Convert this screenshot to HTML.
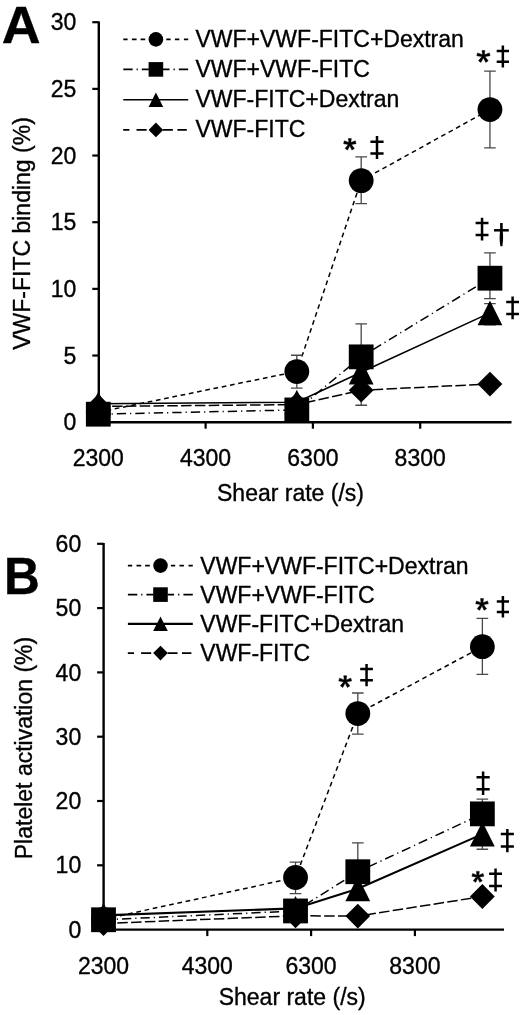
<!DOCTYPE html><html><head><meta charset="utf-8"><style>html,body{margin:0;padding:0;background:#fff;}svg{display:block;filter:grayscale(1);}text{font-family:"Liberation Sans",sans-serif;fill:#000;stroke:#000;stroke-width:0.35px;}</style></head><body>
<svg width="520" height="1015" viewBox="0 0 520 1015">
<rect width="520" height="1015" fill="#fff"/>
<line x1="98.8" y1="21.5" x2="98.8" y2="422.2" stroke="#000" stroke-width="2.4"/>
<line x1="97.6" y1="422.2" x2="511.5" y2="422.2" stroke="#000" stroke-width="2.4"/>
<line x1="92.3" y1="422.20" x2="98.8" y2="422.20" stroke="#000" stroke-width="2.2"/>
<text x="76.3" y="430.30" text-anchor="end" font-size="23">0</text>
<line x1="92.3" y1="355.53" x2="98.8" y2="355.53" stroke="#000" stroke-width="2.2"/>
<text x="76.3" y="363.63" text-anchor="end" font-size="23">5</text>
<line x1="92.3" y1="288.87" x2="98.8" y2="288.87" stroke="#000" stroke-width="2.2"/>
<text x="76.3" y="296.97" text-anchor="end" font-size="23">10</text>
<line x1="92.3" y1="222.20" x2="98.8" y2="222.20" stroke="#000" stroke-width="2.2"/>
<text x="76.3" y="230.30" text-anchor="end" font-size="23">15</text>
<line x1="92.3" y1="155.54" x2="98.8" y2="155.54" stroke="#000" stroke-width="2.2"/>
<text x="76.3" y="163.64" text-anchor="end" font-size="23">20</text>
<line x1="92.3" y1="88.88" x2="98.8" y2="88.88" stroke="#000" stroke-width="2.2"/>
<text x="76.3" y="96.97" text-anchor="end" font-size="23">25</text>
<line x1="92.3" y1="22.21" x2="98.8" y2="22.21" stroke="#000" stroke-width="2.2"/>
<text x="76.3" y="30.31" text-anchor="end" font-size="23">30</text>
<line x1="205.60" y1="422.2" x2="205.60" y2="428.7" stroke="#000" stroke-width="2.2"/>
<line x1="312.90" y1="422.2" x2="312.90" y2="428.7" stroke="#000" stroke-width="2.2"/>
<line x1="420.20" y1="422.2" x2="420.20" y2="428.7" stroke="#000" stroke-width="2.2"/>
<text x="98.30" y="465.8" text-anchor="middle" font-size="23">2300</text>
<text x="205.60" y="465.8" text-anchor="middle" font-size="23">4300</text>
<text x="312.90" y="465.8" text-anchor="middle" font-size="23">6300</text>
<text x="420.20" y="465.8" text-anchor="middle" font-size="23">8300</text>
<text x="290.5" y="500.8" text-anchor="middle" font-size="23">Shear rate (/s)</text>
<text transform="translate(29.8,233.5) rotate(-90)" text-anchor="middle" font-size="23">VWF-FITC binding (%)</text>
<text transform="translate(1.8,42.6) scale(1.035,1)" font-size="52" font-weight="bold">A</text>
<polyline points="98.30,406.47 296.81,404.60 361.19,390.20 489.95,384.07" fill="none" stroke="#000" stroke-width="1.5" stroke-dasharray="10.5 3.3"/>
<polyline points="98.30,403.80 296.81,402.20 361.19,372.20 489.95,312.87" fill="none" stroke="#000" stroke-width="1.6" stroke-dasharray="none"/>
<polyline points="98.30,414.20 296.81,409.93 361.19,356.87 489.95,278.20" fill="none" stroke="#000" stroke-width="1.5" stroke-dasharray="9.3 4 1.2 4"/>
<polyline points="98.30,412.20 296.81,371.53 361.19,180.61 489.95,109.54" fill="none" stroke="#000" stroke-width="1.5" stroke-dasharray="4.7 3.7"/>
<path d="M361.19,405.27V390.20M355.38,405.27h11.6M355.38,390.20h11.6" stroke="#484848" stroke-width="1.3" fill="none"/>
<path d="M489.95,324.87V303.54M484.15,324.87h11.6M484.15,303.54h11.6" stroke="#484848" stroke-width="1.3" fill="none"/>
<path d="M361.19,356.87V323.94M355.38,356.87h11.6M355.38,323.94h11.6" stroke="#484848" stroke-width="1.3" fill="none"/>
<path d="M489.95,298.60V252.87M484.15,298.60h11.6M484.15,252.87h11.6" stroke="#484848" stroke-width="1.3" fill="none"/>
<path d="M296.81,388.20V355.27M291.00,388.20h11.6M291.00,355.27h11.6" stroke="#484848" stroke-width="1.3" fill="none"/>
<path d="M361.19,203.54V156.87M355.38,203.54h11.6M355.38,156.87h11.6" stroke="#484848" stroke-width="1.3" fill="none"/>
<path d="M489.95,147.94V71.14M484.15,147.94h11.6M484.15,71.14h11.6" stroke="#484848" stroke-width="1.3" fill="none"/>
<path d="M98.30,394.07L110.70,406.47L98.30,418.87L85.90,406.47Z" fill="#000"/>
<path d="M296.81,392.20L309.20,404.60L296.81,417.00L284.41,404.60Z" fill="#000"/>
<path d="M361.19,377.80L373.58,390.20L361.19,402.60L348.79,390.20Z" fill="#000"/>
<path d="M489.95,371.67L502.35,384.07L489.95,396.47L477.55,384.07Z" fill="#000"/>
<path d="M98.30,391.40L110.70,416.20L85.90,416.20Z" fill="#000"/>
<path d="M296.81,389.80L309.20,414.60L284.41,414.60Z" fill="#000"/>
<path d="M361.19,359.80L373.58,384.60L348.79,384.60Z" fill="#000"/>
<path d="M489.95,300.47L502.35,325.27L477.55,325.27Z" fill="#000"/>
<rect x="85.90" y="401.80" width="24.80" height="24.80" fill="#000"/>
<rect x="284.41" y="397.53" width="24.80" height="24.80" fill="#000"/>
<rect x="348.79" y="344.47" width="24.80" height="24.80" fill="#000"/>
<rect x="477.55" y="265.80" width="24.80" height="24.80" fill="#000"/>
<circle cx="98.30" cy="412.20" r="12.40" fill="#000"/>
<circle cx="296.81" cy="371.53" r="12.40" fill="#000"/>
<circle cx="361.19" cy="180.61" r="12.40" fill="#000"/>
<circle cx="489.95" cy="109.54" r="12.40" fill="#000"/>
<path d="M123.30,39.4H127.60M131.90,39.4H136.60M140.60,39.4H145.20M166.30,39.4H170.60M174.90,39.4H179.30M183.90,39.4H188.20" stroke="#000" stroke-width="1.6" fill="none"/>
<circle cx="155.90" cy="39.40" r="7.30" fill="#000"/>
<text x="195.5" y="46.9" font-size="23">VWF+VWF-FITC+Dextran</text>
<path d="M123.30,69.4H132.70M136.60,69.4H137.80M141.80,69.4H148.90M162.90,69.4H169.50M173.50,69.4H174.80M178.80,69.4H188.20" stroke="#000" stroke-width="1.6" fill="none"/>
<rect x="148.60" y="62.10" width="14.60" height="14.60" fill="#000"/>
<text x="195.5" y="76.9" font-size="23">VWF+VWF-FITC</text>
<path d="M123.30,99.8H188.20" stroke="#000" stroke-width="1.6" fill="none"/>
<path d="M155.90,92.50L163.20,107.10L148.60,107.10Z" fill="#000"/>
<text x="195.5" y="106.9" font-size="23">VWF-FITC+Dextran</text>
<path d="M123.20,129.9H129.40M136.50,129.9H146.60M163.00,129.9H172.90M177.40,129.9H186.80" stroke="#000" stroke-width="1.6" fill="none"/>
<path d="M155.90,122.60L163.20,129.90L155.90,137.20L148.60,129.90Z" fill="#000"/>
<text x="195.5" y="136.9" font-size="23">VWF-FITC</text>
<path d="M350.65,143.87L351.30,138.57L348.40,138.57L349.05,143.87ZM350.06,144.64L356.10,143.66L355.33,140.86L349.64,143.10ZM350.06,143.10L344.37,140.86L343.60,143.66L349.64,144.64ZM349.17,144.29L351.91,150.00L354.38,148.48L350.53,143.45ZM349.18,143.43L345.10,148.45L347.53,150.05L350.52,144.31Z" fill="#000" stroke="#000" stroke-width="0.5" stroke-linejoin="round"/><circle cx="349.85" cy="143.87" r="1.4" fill="#000"/>
<path d="M377.00,136.10V158.90M370.40,141.70H383.60M370.40,153.60H383.60" stroke="#000" stroke-width="2.5" fill="none"/>
<path d="M484.25,56.01L484.90,50.46L482.00,50.46L482.65,56.01ZM483.66,56.78L490.09,55.72L489.34,52.92L483.24,55.24ZM483.66,55.24L477.56,52.92L476.81,55.72L483.24,56.78ZM482.77,56.43L485.74,62.40L488.19,60.87L484.13,55.58ZM482.79,55.56L478.47,60.84L480.88,62.45L484.11,56.45Z" fill="#000" stroke="#000" stroke-width="0.5" stroke-linejoin="round"/><circle cx="483.45" cy="56.01" r="1.4" fill="#000"/>
<path d="M502.85,45.60V67.50M496.70,51.10H509.00M496.70,61.70H509.00" stroke="#000" stroke-width="2.5" fill="none"/>
<path d="M482.05,217.80V240.40M475.60,223.00H488.50M475.60,235.00H488.50" stroke="#000" stroke-width="2.5" fill="none"/>
<path d="M494.00,230.30H508.80" stroke="#000" stroke-width="2.5" fill="none"/><path d="M500.10,223.00h2.6V230.30C503.00,234.30 503.60,238.30 502.40,246.30H500.40C499.20,238.30 499.80,234.30 500.10,230.30Z" fill="#000"/>
<path d="M512.60,296.60V319.30M506.20,302.00H519.00M506.20,314.00H519.00" stroke="#000" stroke-width="2.5" fill="none"/>
<line x1="103.6" y1="543" x2="103.6" y2="929.6" stroke="#000" stroke-width="2.4"/>
<line x1="102.39999999999999" y1="929.6" x2="504" y2="929.6" stroke="#000" stroke-width="2.4"/>
<line x1="97.1" y1="929.60" x2="103.6" y2="929.60" stroke="#000" stroke-width="2.2"/>
<text x="81.2" y="937.70" text-anchor="end" font-size="23">0</text>
<line x1="97.1" y1="865.30" x2="103.6" y2="865.30" stroke="#000" stroke-width="2.2"/>
<text x="81.2" y="873.40" text-anchor="end" font-size="23">10</text>
<line x1="97.1" y1="801.00" x2="103.6" y2="801.00" stroke="#000" stroke-width="2.2"/>
<text x="81.2" y="809.10" text-anchor="end" font-size="23">20</text>
<line x1="97.1" y1="736.70" x2="103.6" y2="736.70" stroke="#000" stroke-width="2.2"/>
<text x="81.2" y="744.80" text-anchor="end" font-size="23">30</text>
<line x1="97.1" y1="672.40" x2="103.6" y2="672.40" stroke="#000" stroke-width="2.2"/>
<text x="81.2" y="680.50" text-anchor="end" font-size="23">40</text>
<line x1="97.1" y1="608.10" x2="103.6" y2="608.10" stroke="#000" stroke-width="2.2"/>
<text x="81.2" y="616.20" text-anchor="end" font-size="23">50</text>
<line x1="97.1" y1="543.80" x2="103.6" y2="543.80" stroke="#000" stroke-width="2.2"/>
<text x="81.2" y="551.90" text-anchor="end" font-size="23">60</text>
<line x1="207.30" y1="929.6" x2="207.30" y2="936.1" stroke="#000" stroke-width="2.2"/>
<line x1="311.10" y1="929.6" x2="311.10" y2="936.1" stroke="#000" stroke-width="2.2"/>
<line x1="414.90" y1="929.6" x2="414.90" y2="936.1" stroke="#000" stroke-width="2.2"/>
<text x="103.50" y="973.8" text-anchor="middle" font-size="23">2300</text>
<text x="207.30" y="973.8" text-anchor="middle" font-size="23">4300</text>
<text x="311.10" y="973.8" text-anchor="middle" font-size="23">6300</text>
<text x="414.90" y="973.8" text-anchor="middle" font-size="23">8300</text>
<text x="292.2" y="1005.4" text-anchor="middle" font-size="23">Shear rate (/s)</text>
<text transform="translate(31.9,748) rotate(-90)" text-anchor="middle" font-size="23">Platelet activation (%)</text>
<text transform="translate(3.9,593.8) scale(0.955,1)" font-size="52" font-weight="bold">B</text>
<polyline points="103.50,923.49 295.53,915.78 357.81,916.10 482.37,896.49" fill="none" stroke="#000" stroke-width="1.5" stroke-dasharray="10.5 3.3"/>
<polyline points="103.50,915.33 295.53,908.38 357.81,888.77 482.37,834.11" fill="none" stroke="#000" stroke-width="2.1" stroke-dasharray="none"/>
<polyline points="103.50,919.76 295.53,910.95 357.81,871.73 482.37,813.86" fill="none" stroke="#000" stroke-width="1.5" stroke-dasharray="9.3 4 1.2 4"/>
<polyline points="103.50,919.31 295.53,877.52 357.81,713.55 482.37,646.68" fill="none" stroke="#000" stroke-width="1.5" stroke-dasharray="4.7 3.7"/>
<path d="M482.37,849.23V834.11M476.57,849.23h11.6M476.57,834.11h11.6" stroke="#484848" stroke-width="1.3" fill="none"/>
<path d="M357.81,871.73V842.80M352.01,871.73h11.6M352.01,842.80h11.6" stroke="#484848" stroke-width="1.3" fill="none"/>
<path d="M482.37,813.86V799.07M476.57,813.86h11.6M476.57,799.07h11.6" stroke="#484848" stroke-width="1.3" fill="none"/>
<path d="M295.53,893.59V862.09M289.73,893.59h11.6M289.73,862.09h11.6" stroke="#484848" stroke-width="1.3" fill="none"/>
<path d="M357.81,734.13V692.98M352.01,734.13h11.6M352.01,692.98h11.6" stroke="#484848" stroke-width="1.3" fill="none"/>
<path d="M482.37,674.33V618.39M476.57,674.33h11.6M476.57,618.39h11.6" stroke="#484848" stroke-width="1.3" fill="none"/>
<path d="M103.50,911.09L115.90,923.49L103.50,935.89L91.10,923.49Z" fill="#000"/>
<path d="M295.53,903.38L307.93,915.78L295.53,928.18L283.13,915.78Z" fill="#000"/>
<path d="M357.81,903.70L370.21,916.10L357.81,928.50L345.41,916.10Z" fill="#000"/>
<path d="M482.37,884.09L494.77,896.49L482.37,908.89L469.97,896.49Z" fill="#000"/>
<path d="M103.50,902.93L115.90,927.73L91.10,927.73Z" fill="#000"/>
<path d="M295.53,895.98L307.93,920.78L283.13,920.78Z" fill="#000"/>
<path d="M357.81,876.37L370.21,901.17L345.41,901.17Z" fill="#000"/>
<path d="M482.37,821.71L494.77,846.51L469.97,846.51Z" fill="#000"/>
<rect x="91.10" y="907.36" width="24.80" height="24.80" fill="#000"/>
<rect x="283.13" y="898.55" width="24.80" height="24.80" fill="#000"/>
<rect x="345.41" y="859.33" width="24.80" height="24.80" fill="#000"/>
<rect x="469.97" y="801.46" width="24.80" height="24.80" fill="#000"/>
<circle cx="103.50" cy="919.31" r="12.40" fill="#000"/>
<circle cx="295.53" cy="877.52" r="12.40" fill="#000"/>
<circle cx="357.81" cy="713.55" r="12.40" fill="#000"/>
<circle cx="482.37" cy="646.68" r="12.40" fill="#000"/>
<path d="M127.90,565.6H132.20M136.50,565.6H141.20M145.20,565.6H149.80M170.90,565.6H175.20M179.50,565.6H183.90M188.50,565.6H192.80" stroke="#000" stroke-width="1.6" fill="none"/>
<circle cx="160.50" cy="565.60" r="7.30" fill="#000"/>
<text x="200.3" y="573.6" font-size="23">VWF+VWF-FITC+Dextran</text>
<path d="M127.90,594.6H137.30M141.20,594.6H142.40M146.40,594.6H153.50M167.50,594.6H174.10M178.10,594.6H179.40M183.40,594.6H192.80" stroke="#000" stroke-width="1.6" fill="none"/>
<rect x="153.20" y="587.30" width="14.60" height="14.60" fill="#000"/>
<text x="200.3" y="602.6" font-size="23">VWF+VWF-FITC</text>
<path d="M127.90,623.8H192.80" stroke="#000" stroke-width="2.2" fill="none"/>
<path d="M160.50,616.50L167.80,631.10L153.20,631.10Z" fill="#000"/>
<text x="200.3" y="631.7" font-size="23">VWF-FITC+Dextran</text>
<path d="M127.80,653.1H134.00M141.10,653.1H151.20M167.60,653.1H177.50M182.00,653.1H191.40" stroke="#000" stroke-width="1.6" fill="none"/>
<path d="M160.50,645.80L167.80,653.10L160.50,660.40L153.20,653.10Z" fill="#000"/>
<text x="200.3" y="661" font-size="23">VWF-FITC</text>
<path d="M346.00,681.16L346.65,675.76L343.75,675.76L344.40,681.16ZM345.41,681.94L351.60,680.92L350.84,678.13L344.99,680.39ZM345.41,680.39L339.56,678.13L338.80,680.92L344.99,681.94ZM344.52,681.58L347.34,687.40L349.81,685.88L345.88,680.74ZM344.53,680.72L340.37,685.85L342.79,687.45L345.87,681.61Z" fill="#000" stroke="#000" stroke-width="0.5" stroke-linejoin="round"/><circle cx="345.20" cy="681.16" r="1.4" fill="#000"/>
<path d="M366.55,664.00V686.20M360.20,669.10H372.90M360.20,680.20H372.90" stroke="#000" stroke-width="2.5" fill="none"/>
<path d="M482.80,604.01L483.45,598.56L480.55,598.56L481.20,604.01ZM482.21,604.78L488.31,603.76L487.53,600.96L481.79,603.24ZM482.21,603.24L476.47,600.96L475.69,603.76L481.79,604.78ZM481.31,604.42L484.08,610.28L486.57,608.79L482.69,603.60ZM481.33,603.58L477.21,608.76L479.65,610.33L482.67,604.45Z" fill="#000" stroke="#000" stroke-width="0.5" stroke-linejoin="round"/><circle cx="482.00" cy="604.01" r="1.4" fill="#000"/>
<path d="M502.90,596.00V617.60M496.80,601.40H509.00M496.80,611.90H509.00" stroke="#000" stroke-width="2.5" fill="none"/>
<path d="M483.10,771.40V795.00M476.50,777.30H489.70M476.50,789.20H489.70" stroke="#000" stroke-width="2.5" fill="none"/>
<path d="M507.35,829.00V852.20M500.80,834.10H513.90M500.80,846.40H513.90" stroke="#000" stroke-width="2.5" fill="none"/>
<path d="M478.65,876.43L479.30,871.38L476.40,871.38L477.05,876.43ZM478.06,877.20L483.80,876.29L483.03,873.50L477.64,875.66ZM478.06,875.66L472.67,873.50L471.90,876.29L477.64,877.20ZM477.17,876.84L479.74,882.31L482.22,880.80L478.53,876.01ZM477.18,875.99L473.28,880.77L475.71,882.35L478.52,876.87Z" fill="#000" stroke="#000" stroke-width="0.5" stroke-linejoin="round"/><circle cx="477.85" cy="876.43" r="1.4" fill="#000"/>
<path d="M495.55,868.50V891.60M489.10,873.80H502.00M489.10,886.10H502.00" stroke="#000" stroke-width="2.5" fill="none"/>
</svg></body></html>
